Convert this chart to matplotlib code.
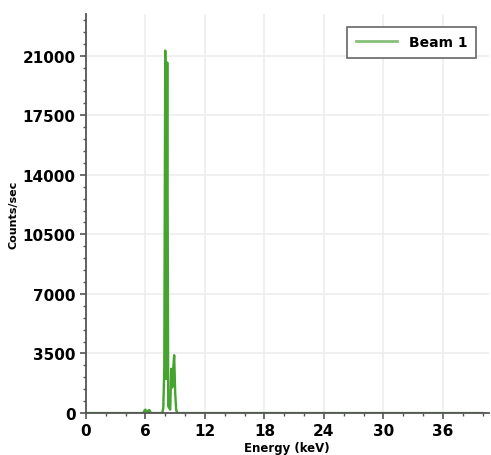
import matplotlib
matplotlib.use("Agg")
import matplotlib.pyplot as plt
from matplotlib.ticker import MultipleLocator

# === Spectrum data ===
energy = [0.0, 5.7, 5.8, 5.9, 6.0, 6.1, 6.2, 6.3, 6.4, 6.5, 6.6,
          7.6, 7.7, 7.8, 7.9, 8.0, 8.1, 8.2, 8.3, 8.4, 8.5, 8.6,
          8.7, 8.8, 8.9, 9.0, 9.1, 9.2, 9.3, 40.0]
counts = [0, 0, 0, 150, 200, 60, 0, 150, 180, 40, 0,
          0, 0, 300, 2500, 21300, 2000, 20600, 400, 300, 200, 2600,
          1500, 2600, 3400, 1200, 200, 0, 0, 0]

x_ticks = [0, 6, 12, 18, 24, 30, 36]
y_ticks = [0, 3500, 7000, 10500, 14000, 17500, 21000]
series_label = "Beam 1"

# === Figure ===
fig, ax = plt.subplots(figsize=(4.91, 4.56), dpi=100)
plt.subplots_adjust(left=0.175, right=0.995, bottom=0.092, top=0.967)

ax.plot(energy, counts, color="#45a32f", lw=1.7, label=series_label)

ax.set_xlim(0, 40.6)
ax.set_ylim(0, 23450)
ax.set_xticks(x_ticks)
ax.set_yticks(y_ticks)
ax.xaxis.set_minor_locator(MultipleLocator(2))
ax.yaxis.set_minor_locator(MultipleLocator(700))
ax.tick_params(which="major", length=4, width=1.2, color="#555555", labelsize=11)
ax.tick_params(which="minor", length=2.5, width=1, color="#555555")
for lab in ax.get_xticklabels() + ax.get_yticklabels():
    lab.set_fontweight("bold")

ax.grid(True, which="major", color="#ededed", lw=1.2, ls="-")
ax.spines["top"].set_visible(False)
ax.spines["right"].set_visible(False)
ax.spines["left"].set_color("#555555")
ax.spines["bottom"].set_color("#555555")
ax.spines["left"].set_linewidth(1.3)
ax.spines["bottom"].set_linewidth(1.3)

ax.set_xlabel("Energy (keV)", fontsize=8.5, fontweight="bold", labelpad=2)
ax.set_ylabel("Counts/sec", fontsize=8, fontweight="bold", labelpad=3)

leg = ax.legend(loc="upper right", prop={"weight": "bold", "size": 10},
                fancybox=False, framealpha=1, edgecolor="#666666",
                handlelength=3, borderpad=0.6, bbox_to_anchor=(0.985, 0.985))
leg.get_frame().set_linewidth(1.2)
for line in leg.get_lines():
    line.set_color("#88c07a")
    line.set_linewidth(2)

fig.savefig("out.png", dpi=100)
